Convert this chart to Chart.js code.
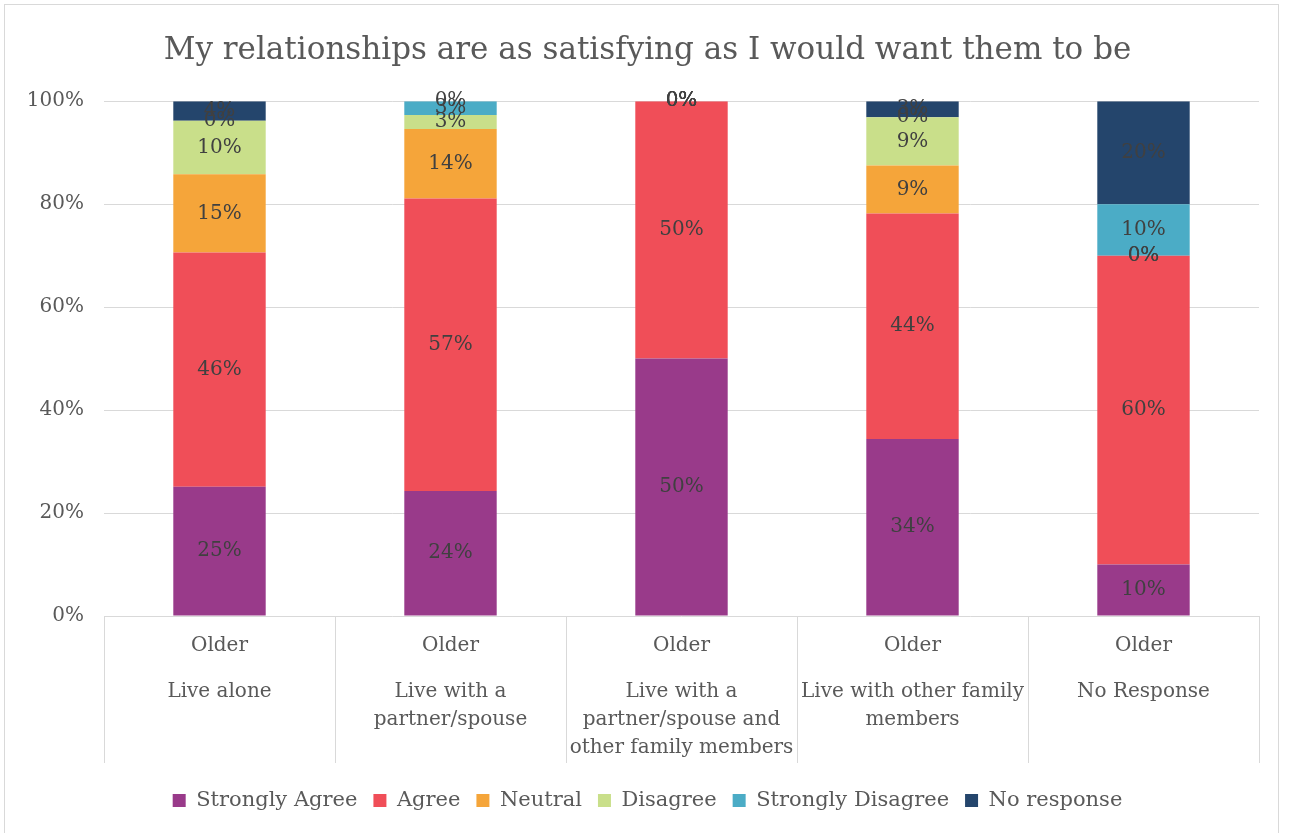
<!DOCTYPE html>
<html>
<head>
<meta charset="utf-8">
<script src="https://cdn.jsdelivr.net/npm/chart.js@4.4.0/dist/chart.umd.min.js"></script>
<style>
  body { margin: 0; background: #fff; }
  canvas { display: block; }
</style>
</head>
<body>
<canvas id="chart" width="1289" height="833"></canvas>
<script>
// Data (percent of each group)
const groupLabel = "Older";
const categories = [
  ["Live alone"],
  ["Live with a", "partner/spouse"],
  ["Live with a", "partner/spouse and", "other family members"],
  ["Live with other family", "members"],
  ["No Response"]
];
const seriesNames = ["Strongly Agree", "Agree", "Neutral", "Disagree", "Strongly Disagree", "No response"];
const stronglyAgree    = [25.1, 24.3, 50, 34.4, 10];
const agree            = [45.5, 56.8, 50, 43.8, 60];
const neutral          = [15.2, 13.5, 0, 9.3, 0];
const disagree         = [10.4, 2.7, 0, 9.4, 0];
const stronglyDisagree = [0, 2.7, 0, 0, 10];
const noResponse       = [3.8, 0, 0, 3.1, 20];
const yTicks = [0, 20, 40, 60, 80, 100];

const colors = ["#993A8A", "#F04E58", "#F5A53A", "#C9DF8A", "#4BACC6", "#24456C"];
const FONT = "DejaVu Serif";
const series = [stronglyAgree, agree, neutral, disagree, stronglyDisagree, noResponse];

// white background + thin outer frame
const frame = {
  id: "frame",
  beforeDraw(chart) {
    const c = chart.ctx;
    c.save();
    c.fillStyle = "#fff";
    c.fillRect(0, 0, chart.width, chart.height);
    c.strokeStyle = "#d9d9d9";
    c.lineWidth = 1;
    c.strokeRect(4.5, 4.5, 1274, 830);
    c.restore();
  }
};

// value labels in the middle of each segment
const valueLabels = {
  id: "valueLabels",
  afterDatasetsDraw(chart) {
    const c = chart.ctx;
    c.save();
    c.font = "20px '" + FONT + "'";
    c.fillStyle = "#404040";
    c.textAlign = "center";
    c.textBaseline = "middle";
    chart.data.datasets.forEach((ds, i) => {
      chart.getDatasetMeta(i).data.forEach((el, j) => {
        const v = ds.data[j];
        c.fillText(Math.round(v) + "%", el.x, (el.y + el.base) / 2);
      });
    });
    c.restore();
  }
};

// two-level category axis with separators
const groupAxis = {
  id: "groupAxis",
  afterDraw(chart) {
    const c = chart.ctx;
    const x = chart.scales.x;
    const top = chart.chartArea.bottom;
    const n = categories.length;
    const step = (x.right - x.left) / n;
    c.save();
    c.strokeStyle = "#d9d9d9";
    c.lineWidth = 1;
    for (let i = 0; i <= n; i++) {
      const px = Math.round(x.left + step * i) + 0.5;
      c.beginPath();
      c.moveTo(px, top);
      c.lineTo(px, top + 147);
      c.stroke();
    }
    c.font = "20px '" + FONT + "'";
    c.fillStyle = "#595959";
    c.textAlign = "center";
    c.textBaseline = "middle";
    categories.forEach((lines, i) => {
      const cx = x.getPixelForValue(i);
      c.fillText(groupLabel, cx, top + 30);
      lines.forEach((t, k) => c.fillText(t, cx, top + 76 + k * 28));
    });
    c.restore();
  }
};

new Chart(document.getElementById("chart"), {
  type: "bar",
  data: {
    labels: categories.map(l => l.join(" ")),
    datasets: seriesNames.map((name, i) => ({
      label: name,
      data: series[i],
      backgroundColor: colors[i],
      borderWidth: 0,
      categoryPercentage: 0.8,
      barPercentage: 0.5
    }))
  },
  options: {
    responsive: false,
    animation: false,
    layout: { padding: { left: 24, right: 18, top: 0, bottom: 12 } },
    plugins: {
      title: {
        display: true,
        text: "My relationships are as satisfying as I would want them to be",
        color: "#595959",
        font: { family: FONT, size: 31, weight: "normal" },
        padding: { top: 32, bottom: 32 }
      },
      legend: {
        position: "bottom",
        labels: {
          color: "#595959",
          font: { family: FONT, size: 21 },
          boxWidth: 13,
          boxHeight: 13,
          padding: 16
        }
      },
      tooltip: { enabled: false }
    },
    scales: {
      x: {
        stacked: true,
        grid: { display: false },
        border: { display: false },
        ticks: { display: false },
        afterFit(scale) { scale.height = 158; }
      },
      y: {
        stacked: true,
        min: 0,
        max: 100,
        afterBuildTicks(scale) { scale.ticks = yTicks.map(v => ({ value: v })); },
        afterFit(scale) { scale.width = 80; },
        grid: { color: "#d9d9d9", drawTicks: false },
        border: { display: false },
        ticks: {
          color: "#595959",
          font: { family: FONT, size: 20 },
          padding: 20,
          callback: v => v + "%"
        }
      },
      // empty spacer on the right so the plot ends where the reference does
      spacer: {
        type: "linear",
        position: "right",
        grid: { display: false },
        border: { display: false },
        ticks: { display: false },
        afterFit(scale) { scale.width = 12; }
      }
    }
  },
  plugins: [frame, valueLabels, groupAxis]
});
</script>
</body>
</html>
